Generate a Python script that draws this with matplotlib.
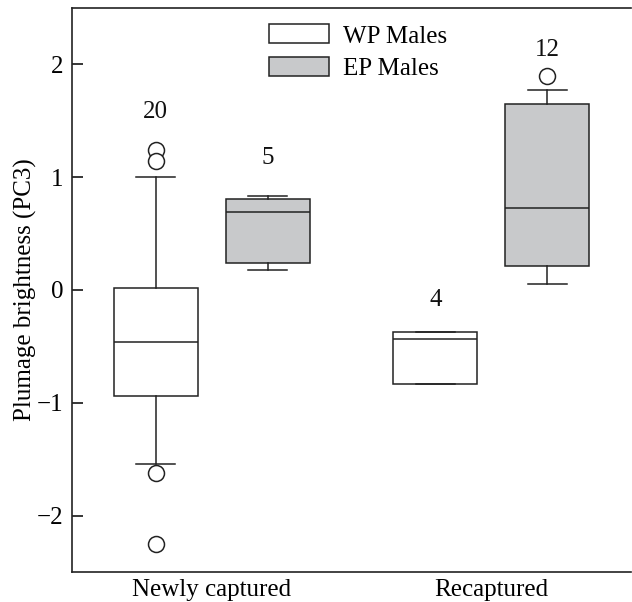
import matplotlib.pyplot as plt
from matplotlib.patches import Patch

plt.rcParams['font.family'] = ['Liberation Serif', 'DejaVu Serif']

groups = ['Newly captured', 'Recaptured']
series = ['WP Males', 'EP Males']
fills = ['white', '#c8c9cb']

# box stats: [newly, recaptured]
wp_q1 = [-0.94, -0.83]
wp_med = [-0.46, -0.43]
wp_q3 = [0.02, -0.37]
wp_lo = [-1.54, -0.83]
wp_hi = [1.00, -0.37]
wp_fliers = [[1.24, 1.14, -1.62, -2.25], []]
wp_n = [20, 4]

ep_q1 = [0.24, 0.21]
ep_med = [0.69, 0.73]
ep_q3 = [0.81, 1.65]
ep_lo = [0.18, 0.05]
ep_hi = [0.83, 1.77]
ep_fliers = [[], [1.90]]
ep_n = [5, 12]

FS = 18

fig = plt.figure(figsize=(6.32, 6.02), dpi=100)
ax = fig.add_axes([72 / 632, 30 / 602, 559 / 632, 564 / 602])

line = dict(color='#222222', linewidth=1.1)
offsets = [-0.2, 0.2]
data = [(wp_q1, wp_med, wp_q3, wp_lo, wp_hi, wp_fliers, wp_n),
        (ep_q1, ep_med, ep_q3, ep_lo, ep_hi, ep_fliers, ep_n)]

for k, (q1, med, q3, lo, hi, fl, n) in enumerate(data):
    stats = []
    pos = []
    for g in range(len(groups)):
        stats.append(dict(q1=q1[g], med=med[g], q3=q3[g], whislo=lo[g],
                          whishi=hi[g], fliers=fl[g]))
        pos.append(g + 1 + offsets[k])
    ax.bxp(stats, positions=pos, widths=0.3, capwidths=0.14,
           patch_artist=True, showfliers=True,
           boxprops=dict(facecolor=fills[k], edgecolor='#222222', linewidth=1.1),
           medianprops=line, whiskerprops=line, capprops=line,
           flierprops=dict(marker='o', markersize=11.5, markerfacecolor='white',
                           markeredgecolor='#222222', markeredgewidth=1.1))

# sample sizes above boxes
label_y = [[1.58, -0.09], [1.17, 2.13]]
for k, n in enumerate([wp_n, ep_n]):
    for g in range(len(groups)):
        ax.text(g + 1 + offsets[k], label_y[k][g], str(n[g]), ha='center',
                va='center', fontsize=FS, color='#111111')

ax.set_xlim(0.5, 2.5)
ax.set_ylim(-2.5, 2.5)
ax.set_xticks([1, 2])
ax.set_xticklabels(groups, fontsize=FS)
ax.tick_params(axis='x', length=0, pad=5)
ax.set_yticks([-2, -1, 0, 1, 2])
ax.set_yticklabels(['\u22122', '\u22121', '0', '1', '2'], fontsize=FS)
ax.tick_params(axis='y', direction='in', length=8, width=1.1, pad=6)
ax.set_ylabel('Plumage brightness (PC3)', fontsize=FS, labelpad=0)
ax.spines['right'].set_visible(False)
for s in ['left', 'top', 'bottom']:
    ax.spines[s].set_linewidth(1.2)
    ax.spines[s].set_color('#222222')

handles = [Patch(facecolor=fills[i], edgecolor='#222222', linewidth=1.1,
                 label=series[i]) for i in range(2)]
ax.legend(handles=handles, loc='upper left', bbox_to_anchor=(0.352, 0.971),
          frameon=False, fontsize=FS, borderpad=0, borderaxespad=0,
          handlelength=2.4, handleheight=0.8, handletextpad=0.56,
          labelspacing=0.36)

fig.savefig('out.png', dpi=100)
